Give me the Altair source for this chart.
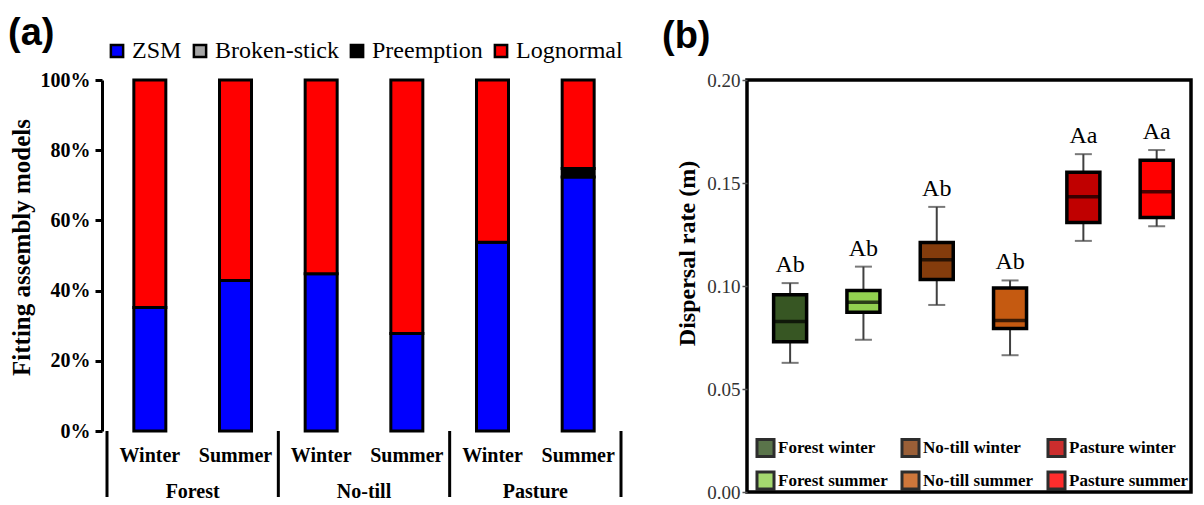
import altair as alt
import pandas as pd

# ---------------- Panel (a) data ----------------
groups = ["Forest", "No-till", "Pasture"]
seasons = ["Winter", "Summer"]
models = ["ZSM", "Broken-stick", "Preemption", "Lognormal"]
model_colors = ["#0000ff", "#a6a6a6", "#000000", "#ff0000"]
zsm = [35.2, 42.9, 44.8, 27.8, 53.8, 72.4]
broken_stick = [0, 0, 0, 0, 0, 0]
preemption = [0, 0, 0, 0, 0, 2.4]
lognormal = [64.8, 57.1, 55.2, 72.2, 46.2, 25.2]

# ---------------- Panel (b) data ----------------
box_labels = ["Forest winter", "Forest summer", "No-till winter",
              "No-till summer", "Pasture winter", "Pasture summer"]
box_colors = ["#375623", "#92d050", "#843c0c", "#c55a11", "#c00000", "#ff0000"]
legend_order = ["Forest winter", "No-till winter", "Pasture winter",
                "Forest summer", "No-till summer", "Pasture summer"]
b_min = [0.0627, 0.0739, 0.0908, 0.0664, 0.1219, 0.1290]
b_q1 = [0.0729, 0.0872, 0.1031, 0.0794, 0.1308, 0.1332]
b_med = [0.0828, 0.0921, 0.1128, 0.0832, 0.1433, 0.1458]
b_q3 = [0.0957, 0.0978, 0.1211, 0.0990, 0.1552, 0.1611]
b_max = [0.1014, 0.1094, 0.1384, 0.1027, 0.1640, 0.1660]
letters = ["Ab", "Ab", "Ab", "Ab", "Aa", "Aa"]

SERIF = "Liberation Serif, Times New Roman, serif"
SANS = "Liberation Sans, Arial, sans-serif"

# ---------------- build tables ----------------
series = [zsm, broken_stick, preemption, lognormal]
rows = []
cats = []
i = 0
for g in groups:
    for s in seasons:
        cats.append({"pos": i + 0.5, "season": s, "group": g})
        for k, m in enumerate(models):
            v = series[k][i]
            if v > 0:
                rows.append({"pos": i + 0.5, "model": m, "value": v, "order": k})
        i += 1
df_a = pd.DataFrame(rows)
df_cats = pd.DataFrame(cats)
df_groups = pd.DataFrame({"pos": [1, 3, 5], "group": groups})
df_sep = pd.DataFrame({"pos": [0, 2, 4, 6]})

WA, HA = 524, 351

bars = alt.Chart(df_a).mark_bar(size=32, stroke="black", strokeWidth=3).encode(
    x=alt.X("pos:Q", scale=alt.Scale(domain=[0, 6], nice=False, zero=False),
            axis=alt.Axis(title=None, labels=False, ticks=False, grid=False,
                          domainColor="black", domainWidth=3)),
    y=alt.Y("value:Q", stack="zero",
            scale=alt.Scale(domain=[0, 100], nice=False),
            axis=alt.Axis(values=[0, 20, 40, 60, 80, 100],
                          labelExpr="datum.value + '%'",
                          grid=False, domainColor="black", domainWidth=3,
                          tickColor="black", tickWidth=3, tickSize=7,
                          labelFont=SERIF, labelFontSize=20, labelFontWeight="bold",
                          labelColor="black", labelPadding=5,
                          title="Fitting assembly models", titleFont=SERIF,
                          titleFontSize=25, titleFontWeight="bold", titleColor="black",
                          titleBaseline="middle", titleX=-81, titleY=167)),
    color=alt.Color("model:N", scale=alt.Scale(domain=models, range=model_colors),
                    legend=alt.Legend(title=None, orient="none", legendX=3, legendY=-41,
                                      direction="horizontal", symbolType="square",
                                      symbolSize=150, symbolStrokeColor="black",
                                      symbolStrokeWidth=2.5, labelFont=SERIF,
                                      labelFontSize=24, labelFontWeight="normal",
                                      labelColor="black",
                                      labelOffset=3, columnPadding=6, labelLimit=300)),
    order=alt.Order("order:Q"),
)

season_text = alt.Chart(df_cats).mark_text(
    font=SERIF, fontSize=20, fontWeight="bold", color="black", baseline="middle"
).encode(x=alt.X("pos:Q", axis=None), y=alt.value(HA + 25), text="season:N")

group_text = alt.Chart(df_groups).mark_text(
    font=SERIF, fontSize=20, fontWeight="bold", color="black", baseline="middle"
).encode(x=alt.X("pos:Q", axis=None), y=alt.value(HA + 61), text="group:N")

seps = alt.Chart(df_sep).mark_rule(color="black", strokeWidth=3).encode(
    x=alt.X("pos:Q", axis=None), y=alt.value(HA), y2=alt.value(HA + 66)
)

panel_a = alt.layer(bars, season_text, group_text, seps).properties(
    width=WA, height=HA,
    title=alt.TitleParams("(a)", anchor="start", frame="group", dx=-94, dy=16,
                          font=SANS, fontSize=38, fontWeight="bold", color="black",
                          offset=2),
)

# ---------------- Panel (b) ----------------
df_b = pd.DataFrame({
    "pos": [1, 2, 3, 4, 5, 6], "label": box_labels,
    "min": b_min, "q1": b_q1, "med": b_med, "q3": b_q3, "max": b_max,
    "letter": letters,
})
WB, HB = 444, 412
xb = alt.X("pos:Q", scale=alt.Scale(domain=[0.48, 6.4], nice=False, zero=False), axis=None)
yscale = alt.Scale(domain=[0, 0.2], nice=False)

base_b = alt.Chart(df_b)

w_low = base_b.mark_rule(color="#404040", strokeWidth=2).encode(
    x=xb,
    y=alt.Y("min:Q", scale=yscale,
            axis=alt.Axis(values=[0, 0.05, 0.1, 0.15, 0.2], format=".2f", domain=False,
                          grid=False, tickColor="#555555", tickSize=5, tickWidth=1.5,
                          labelFont=SERIF, labelFontSize=19, labelFontWeight="normal",
                          labelColor="#333333", labelPadding=2,
                          title="Dispersal rate (m)", titleFont=SERIF, titleFontSize=24,
                          titleFontWeight="bold", titleColor="black",
                          titleBaseline="middle", titleX=-60, titleY=173)),
    y2="q1:Q",
)
w_high = base_b.mark_rule(color="#404040", strokeWidth=2).encode(
    x=xb, y=alt.Y("q3:Q", scale=yscale), y2="max:Q"
)
cap_low = base_b.mark_tick(orient="horizontal", size=17, thickness=2, color="#404040").encode(
    x=xb, y=alt.Y("min:Q", scale=yscale)
)
cap_high = base_b.mark_tick(orient="horizontal", size=17, thickness=2, color="#404040").encode(
    x=xb, y=alt.Y("max:Q", scale=yscale)
)
box = base_b.mark_bar(size=33, stroke="black", strokeWidth=3.5).encode(
    x=xb, y=alt.Y("q1:Q", scale=yscale), y2="q3:Q",
    color=alt.Color("label:N",
                    scale=alt.Scale(domain=legend_order,
                                    range=[box_colors[box_labels.index(l)] for l in legend_order]),
                    legend=alt.Legend(title=None, orient="none", legendX=8, legendY=357,
                                      columns=3, direction="horizontal",
                                      symbolType="square", symbolSize=290,
                                      symbolStrokeColor="black", symbolStrokeWidth=3,
                                      symbolOpacity=0.82,
                                      labelFont=SERIF, labelFontSize=17,
                                      labelFontWeight="bold", labelColor="black",
                                      labelOffset=2, columnPadding=7, rowPadding=2,
                                      labelLimit=300)),
)
median = base_b.mark_tick(orient="horizontal", size=34, thickness=3.5, color="black").encode(
    x=xb, y=alt.Y("med:Q", scale=yscale)
)
letter_text = base_b.mark_text(font=SERIF, fontSize=24, color="black",
                               baseline="middle", dy=-18).encode(
    x=xb, y=alt.Y("max:Q", scale=yscale), text="letter:N"
)

panel_b = alt.layer(w_low, w_high, cap_low, cap_high, box, median, letter_text).properties(
    width=WB, height=HB,
    view=alt.ViewBackground(stroke="black", strokeWidth=3.5),
    title=alt.TitleParams("(b)", anchor="start", frame="group", dx=-85,
                          font=SANS, fontSize=38, fontWeight="bold", color="black",
                          offset=15),
)

chart = alt.hconcat(panel_a, panel_b, spacing=121, bounds="flush").resolve_scale(
    color="independent", x="independent", y="independent"
).properties(padding={"left": 0, "top": 7, "right": 0, "bottom": 0}).configure_view(
    stroke=None
).configure_legend(labelFont=SERIF).configure_axis(labelFont=SERIF, titleFont=SERIF)

chart.save("out.html", embed_options={"renderer": "svg", "actions": False})
